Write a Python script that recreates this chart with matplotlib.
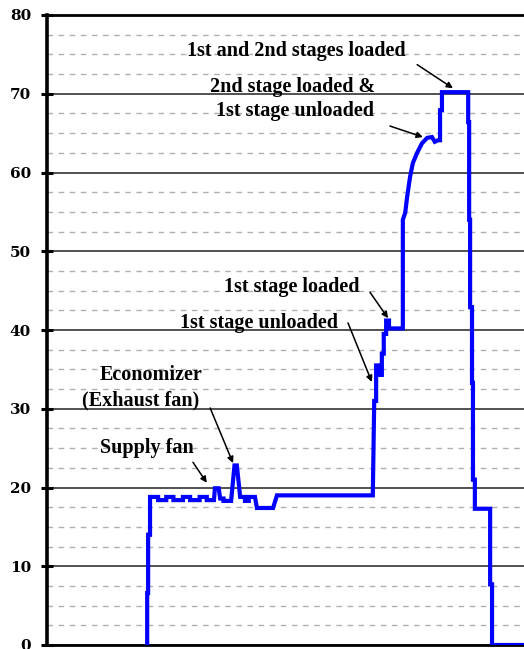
import matplotlib as mpl
import matplotlib.pyplot as plt
from matplotlib.ticker import MultipleLocator

mpl.use('Agg')

# time axis (arbitrary minutes) and measured value of the trace
tempo = [21.0, 21.0, 21.2, 21.2, 21.6, 21.6, 23.3, 23.3, 25.0, 25.0, 26.5, 26.5,
         28.5, 28.5, 30.0, 30.0, 32.0, 32.0, 33.5, 33.5, 35.0, 35.2, 36.0, 36.3,
         37.0, 37.0, 38.6, 39.3, 39.8, 40.5, 41.5, 41.5, 42.3, 42.3, 43.6, 44.0,
         47.4, 47.8, 48.2, 68.3, 68.6, 69.0, 69.0, 69.6, 69.6, 70.2, 70.2, 70.6,
         70.6, 71.1, 71.1, 71.7, 71.7, 74.6, 74.6, 75.1, 75.5, 76.1, 76.7, 77.6,
         78.6, 79.7, 80.7, 81.3, 82.0, 82.4, 82.4, 82.8, 82.8, 88.3, 88.3, 88.5,
         88.5, 88.7, 88.7, 89.1, 89.1, 89.3, 89.3, 89.7, 89.7, 92.9, 92.9, 93.3,
         93.3, 100.0]
valores = [0.0, 6.6, 6.6, 14.0, 14.0, 18.8, 18.8, 18.4, 18.4, 18.8, 18.8, 18.4,
           18.4, 18.8, 18.8, 18.4, 18.4, 18.8, 18.8, 18.4, 18.4, 19.9, 19.9, 18.6,
           18.6, 18.3, 18.3, 22.8, 22.8, 18.8, 18.8, 18.3, 18.3, 18.8, 18.8, 17.4,
           17.4, 18.2, 19.0, 19.0, 31.0, 31.0, 35.5, 35.5, 34.3, 34.3, 37.0, 37.0,
           39.5, 39.5, 41.2, 41.2, 40.2, 40.2, 54.0, 54.9, 56.9, 59.4, 61.2, 62.5,
           63.7, 64.4, 64.5, 63.9, 64.1, 64.1, 67.9, 67.9, 70.2, 70.2, 66.4, 66.4,
           54.0, 54.0, 42.9, 42.9, 33.3, 33.3, 21.0, 21.0, 17.3, 17.3, 7.7, 7.7,
           0.0, 0.0]

# labels and where they sit
textos = [
    ("1st and 2nd stages loaded", (52.2, 75.4)),
    ("2nd stage loaded &", (51.4, 70.9)),
    ("1st stage unloaded", (52.0, 67.8)),
    ("1st stage loaded", (51.4, 45.5)),
    ("1st stage unloaded", (44.4, 40.9)),
    ("Economizer", (21.8, 34.3)),
    ("(Exhaust fan)", (19.7, 31.1)),
    ("Supply fan", (21.0, 25.0)),
]
# arrows: start, end
setas = [
    ((77.6, 73.7), (85.1, 70.7)),
    ((71.9, 65.9), (78.8, 64.5)),
    ((67.7, 44.8), (71.5, 41.5)),
    ((63.1, 40.9), (68.1, 33.4)),
    ((34.2, 30.1), (39.0, 23.1)),
    ((30.6, 23.2), (33.5, 20.6)),
]

fig = plt.figure(figsize=(5.24, 6.49), dpi=100)
ax = fig.add_axes([47 / 524, 4 / 649, 1 - 47 / 524, 630 / 649])

ax.plot(tempo, valores, color='#0000ff', linewidth=3, solid_joinstyle='miter', zorder=3)

ax.set_xlim(0, 100)
ax.set_ylim(0, 80)
ax.yaxis.set_major_locator(MultipleLocator(10))
ax.yaxis.set_minor_locator(MultipleLocator(2.5))
ax.set_xticks([])
ax.grid(True, which='major', axis='y', color='#333333', linewidth=1.2)
ax.grid(True, which='minor', axis='y', color='#b0b0b0', linewidth=1.0,
        linestyle=(0, (4, 4)))
ax.tick_params(axis='y', which='major', direction='inout', length=9, width=2.2,
               pad=7, labelsize=11)
ax.tick_params(axis='y', which='minor', length=0)
for lab in ax.get_yticklabels():
    lab.set_fontfamily('DejaVu Serif')
    lab.set_fontweight('bold')

ax.spines['right'].set_visible(False)
ax.spines['left'].set_linewidth(2.6)
ax.spines['top'].set_linewidth(2.0)
ax.spines['bottom'].set_linewidth(2.0)

for texto, pos in textos:
    ax.text(pos[0], pos[1], texto, ha='center', va='center',
            fontsize=14.5, fontfamily='Liberation Serif', fontweight='bold', zorder=4)
for ini, fim in setas:
    ax.annotate('', xy=fim, xytext=ini,
                arrowprops=dict(arrowstyle='-|>', color='black', lw=1.1,
                                mutation_scale=9, shrinkA=0, shrinkB=0))

plt.savefig('out.png', dpi=100)
